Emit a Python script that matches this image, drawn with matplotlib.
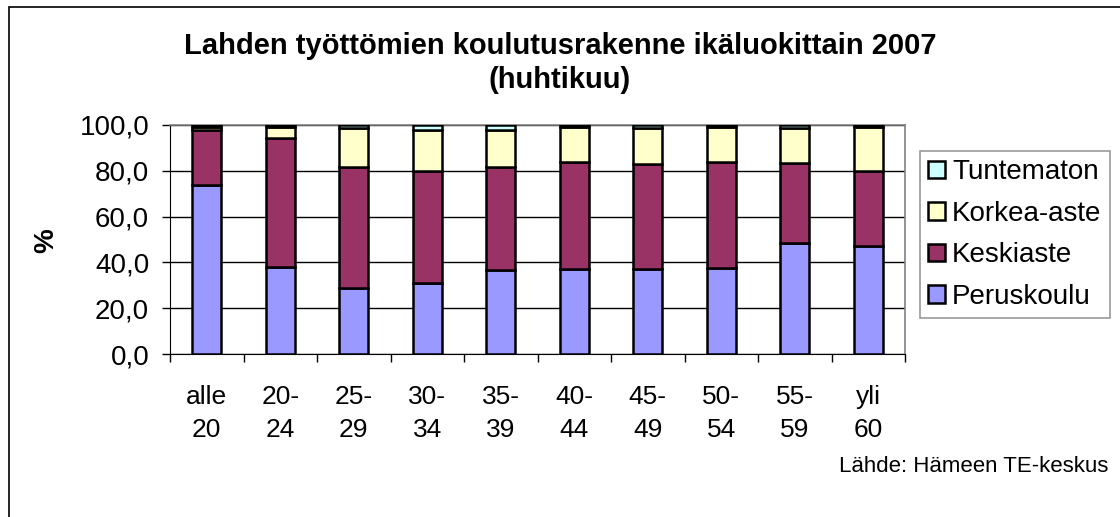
import matplotlib
matplotlib.use("Agg")
import matplotlib.pyplot as plt
from matplotlib.patches import Rectangle, Patch
import numpy as np

plt.rcParams['font.family'] = ['Liberation Sans', 'DejaVu Sans']

categories = ["alle\n20", "20-\n24", "25-\n29", "30-\n34", "35-\n39",
              "40-\n44", "45-\n49", "50-\n54", "55-\n59", "yli\n60"]
peruskoulu = [73.8, 38.1, 29.0, 30.9, 36.7, 37.1, 37.1, 37.7, 48.3, 47.3]
keskiaste = [24.0, 56.1, 52.5, 49.2, 44.8, 46.9, 45.7, 46.3, 34.9, 32.6]
korkea_aste = [1.2, 4.8, 17.0, 17.8, 16.4, 15.3, 15.7, 15.3, 15.3, 19.4]
tuntematon = [1.0, 1.0, 1.5, 2.1, 2.1, 0.7, 1.5, 0.7, 1.5, 0.7]
yticks = [0, 20, 40, 60, 80, 100]
ytick_labels = ["0,0", "20,0", "40,0", "60,0", "80,0", "100,0"]

series = [("Peruskoulu", peruskoulu, "#9999FF"),
          ("Keskiaste", keskiaste, "#993366"),
          ("Korkea-aste", korkea_aste, "#FFFFCC"),
          ("Tuntematon", tuntematon, "#CCFFFF")]

W, H = 1120, 517
fig = plt.figure(figsize=(W / 100, H / 100), dpi=100)
# outer chart border
fig.patches.append(Rectangle((8.5 / W, -0.1), 1.2, (H - 6.5) / H + 0.1,
                             transform=fig.transFigure, fill=False,
                             edgecolor="black", linewidth=1.2))

ax = fig.add_axes([170 / W, (H - 354) / H, 735 / W, 229 / H])
x = np.arange(len(categories))
bottom = np.zeros(len(categories))
for name, vals, col in series:
    ax.bar(x, vals, width=0.4, bottom=bottom, color=col, edgecolor="black",
           linewidth=1.8, label=name, zorder=3)
    bottom += np.array(vals)

ax.set_xlim(-0.5, len(categories) - 0.5)
ax.set_ylim(0, 100)
ax.set_yticks(yticks)
ax.set_yticklabels(ytick_labels, fontsize=20)
ax.yaxis.grid(True, color="black", linewidth=1.0, zorder=0)
ax.set_axisbelow(True)

ax.set_xticks(x)
ax.set_xticklabels(categories, fontsize=19, linespacing=1.48)
ax.tick_params(axis="x", length=0, pad=22)
ax.set_xticks(np.arange(-0.5, len(categories), 1), minor=True)
ax.tick_params(axis="x", which="minor", length=6, width=1, direction="out")
ax.tick_params(axis="y", length=6, width=1, direction="out", pad=9)

for side in ["top", "right"]:
    ax.spines[side].set_color("#808080")
    ax.spines[side].set_linewidth(1.2)
ax.spines["left"].set_color("black")
ax.spines["bottom"].set_color("black")

fig.text(46 / W, 1 - 241 / H, "%", rotation=90, ha="center", va="center",
         fontsize=20, fontweight="bold")

fig.text(0.5, 1 - 63 / H, "Lahden työttömien koulutusrakenne ikäluokittain 2007\n(huhtikuu)",
         ha="center", va="center", fontsize=21, fontweight="bold", linespacing=1.3)

handles = [Patch(facecolor=c, edgecolor="black", linewidth=1.8) for _, _, c in series][::-1]
labels = [n for n, _, _ in series][::-1]
leg = fig.legend(handles, labels, loc="upper left",
                 bbox_to_anchor=(920 / W, 1 - 151 / H),
                 fontsize=20, frameon=True, fancybox=False, handlelength=0.6,
                 handleheight=0.6, handletextpad=0.25, labelspacing=0.56,
                 borderpad=0.3, borderaxespad=0)
leg.get_frame().set_edgecolor("#808080")
leg.get_frame().set_linewidth(1.2)

fig.text(1108 / W, 1 - 466 / H, "Lähde: Hämeen TE-keskus", ha="right",
         va="center", fontsize=16)

fig.savefig("out.png", dpi=100)
